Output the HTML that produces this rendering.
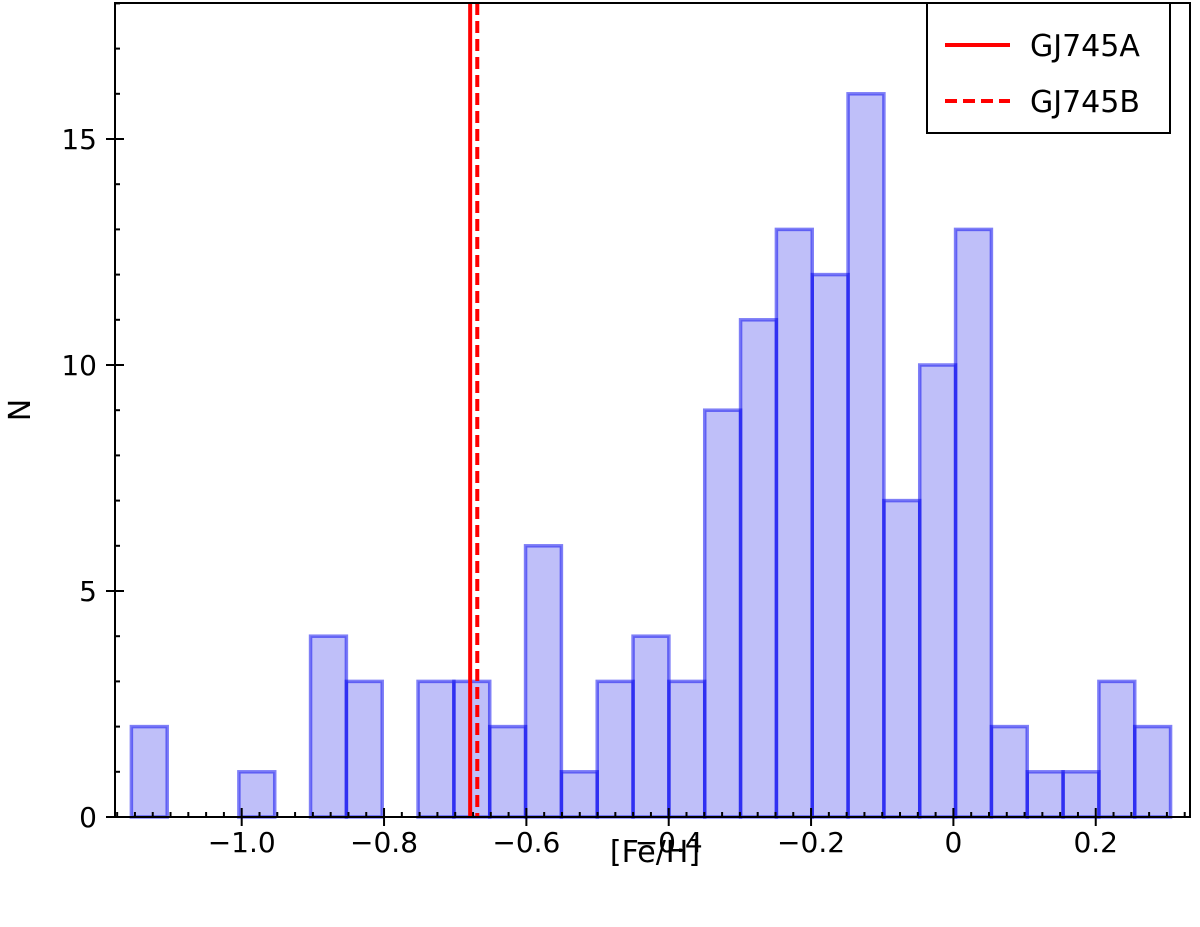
<!DOCTYPE html>
<html><head><meta charset="utf-8"><style>body{margin:0;background:#fff}svg{display:block;font-family:"DejaVu Sans","Liberation Sans",sans-serif}</style></head>
<body>
<svg width="1200" height="927">
<g id="bars"></g>
<g id="axes"></g>
<g id="lines"></g>
<rect x="115" y="3" width="1075" height="814" fill="none" stroke="#000" stroke-width="2"/>
<text x="655" y="862" font-size="30" text-anchor="middle">[Fe/H]</text>
<text x="30" y="410" font-size="30" text-anchor="middle" transform="rotate(-90 30 410)">N</text>
<g>
<rect x="927" y="3" width="243" height="130" fill="#fff" stroke="#000" stroke-width="2"/>
<line x1="945" y1="45" x2="1010" y2="45" stroke="#f00" stroke-width="4"/>
<text x="1030" y="56" font-size="30">GJ745A</text>
<line x1="945" y1="101" x2="1010" y2="101" stroke="#f00" stroke-width="4" stroke-dasharray="12,6"/>
<text x="1030" y="112" font-size="30">GJ745B</text>
</g>
</svg>
<script>
const counts=[2,0,0,1,0,4,3,0,3,3,2,6,1,3,4,3,9,11,13,12,16,7,10,13,2,1,1,3,2];
const binStart=-1.155;
const binWidth=0.05035;
const xTicks=[-1.0,-0.8,-0.6,-0.4,-0.2,0.0,0.2];
const xTickLabels=["\u22121.0","\u22120.8","\u22120.6","\u22120.4","\u22120.2","0","0.2"];
const yTicks=[0,5,10,15];
const refLines=[-0.679,-0.669];
const X=v=>241.7+(v+1.0)*711.7;
const Y=v=>817-v*45.2;
const NS="http://www.w3.org/2000/svg";
function mk(t,a,p){const e=document.createElementNS(NS,t);for(const k in a)e.setAttribute(k,a[k]);p.appendChild(e);return e;}
const bars=document.getElementById('bars');
counts.forEach((c,i)=>{if(!c)return;const x0=X(binStart+i*binWidth),x1=X(binStart+(i+1)*binWidth);
const r=mk('rect',{x:x0,y:Y(c),width:x1-x0,height:Y(0)-Y(c),fill:'rgba(0,0,230,0.25)',stroke:'rgba(0,0,240,0.5)','stroke-width':3.5},bars);

});
const ax=document.getElementById('axes');
for(let v=-1.175;v<=0.33;v+=0.025){const x=X(v);const major=xTicks.some(t=>Math.abs(t-v)<1e-6);
mk('line',{x1:x,x2:x,y1:817,y2:817-(major?9:5),stroke:'#000','stroke-width':2},ax);
mk('line',{x1:x,x2:x,y1:817,y2:817+(major?9:0),stroke:'#000','stroke-width':2},ax);}
xTicks.forEach((t,i)=>{const e=mk('text',{x:X(t),y:852,'font-size':28,'text-anchor':'middle'},ax);e.textContent=xTickLabels[i];

});
for(let v=0;v<=18;v++){const y=Y(v);const major=v%5==0;
mk('line',{x1:115,x2:115+(major?9:5),y1:y,y2:y,stroke:'#000','stroke-width':2},ax);
if(major)mk('line',{x1:106,x2:115,y1:y,y2:y,stroke:'#000','stroke-width':2},ax);}
yTicks.forEach(t=>{const e=mk('text',{x:97,y:Y(t)+10,'font-size':28,'text-anchor':'end'},ax);e.textContent=t;

});
const L=document.getElementById('lines');
refLines.forEach((v,i)=>{const e=mk('line',{x1:X(v),x2:X(v),y1:3,y2:817,stroke:'#f00','stroke-width':4},L);
if(i==1)e.setAttribute('stroke-dasharray','12,6');

});
</script>
</body></html>
